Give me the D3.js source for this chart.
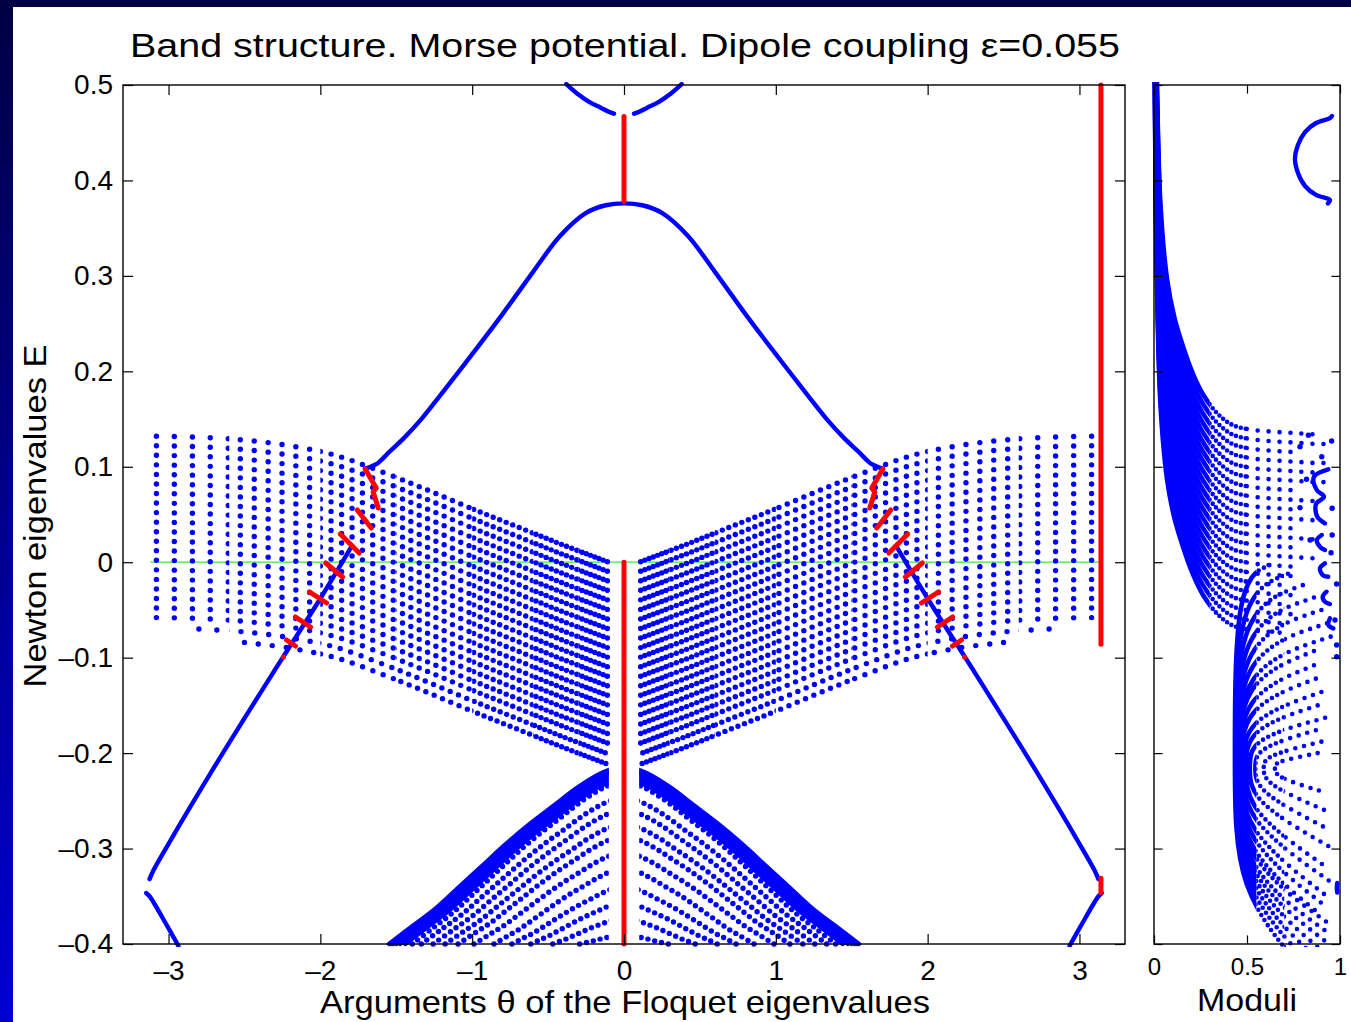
<!DOCTYPE html>
<html>
<head>
<meta charset="UTF-8">
<style>
  body { margin: 0; background: #fff; }
  svg { display: block; }
</style>
</head>
<body>
<svg id="chart"></svg>
<script src="https://d3js.org/d3.v7.min.js"></script>
<script>
const width = 1351, height = 1022;
const FONT = "'Liberation Sans', Arial, Helvetica, sans-serif";
const BLUE = "#0000ff", RED = "#ff0000", GREEN = "#33ee33";

// ---------- values ----------
const xTicks = [-3, -2, -1, 0, 1, 2, 3];
const yTicks = [-0.4, -0.3, -0.2, -0.1, 0, 0.1, 0.2, 0.3, 0.4, 0.5];
const modTicks = [0, 0.5, 1];

// upper band (left half, mirrored to the right)
const archX = [-1.705, -1.62, -1.55, -1.45, -1.335, -1.2, -1.0, -0.8, -0.6, -0.42, -0.25, -0.12, 0];
const archY = [0.098, 0.104, 0.115, 0.130, 0.150, 0.177, 0.218, 0.260, 0.304, 0.342, 0.366, 0.374, 0.376];
// band crossing the gap (right half, mirrored to the left)
const diagX = [1.80, 2.00, 2.32, 2.70, 3.00, 3.10, 3.125];
const diagY = [0.015, -0.038, -0.118, -0.215, -0.295, -0.323, -0.332];
// short branch at the bottom corners (left, mirrored)
const hookX = [-3.147, -3.125, -3.10, -3.02, -2.935];
const hookY = [-0.3466, -0.350, -0.356, -0.378, -0.402];
// branch touching the top edge (left, mirrored)
const vX = [-0.38, -0.30, -0.227, -0.15, -0.10, -0.066];
const vY = [0.501, 0.490, 0.482, 0.476, 0.472, 0.470];

// red vertical segments: x, top, bottom
const redVX = [0, 0, 3.1416, 3.1416];
const redVTop = [0.467, 0.0, 0.5, -0.331];
const redVBot = [0.378, -0.4, -0.086, -0.346];
// red zig-zag (right side, mirrored)
const redZig = [
  [[1.705, 0.0977], [1.632, 0.0778], [1.652, 0.0736], [1.619, 0.0568]],
  [[1.665, 0.0358], [1.757, 0.0547]],
  [[1.744, 0.0096], [1.869, 0.0295]],
  [[1.853, -0.0155], [1.965, -0.0008]],
  [[1.959, -0.0427], [2.071, -0.0312]],
  [[2.065, -0.0679], [2.164, -0.0574]],
  [[2.164, -0.0878], [2.223, -0.0815]],
  [[2.243, -0.0993], [2.243, -0.0993]]
];
const greenFrom = -3.12, greenTo = 3.13;

// middle band fan (left half, mirrored): common profile + offset of each row
const fanX = [-3.08, -2.8, -2.5, -2.2, -1.9, -1.6, -1.3, -1.0, -0.7, -0.4, -0.1];
const fanShape = [0, -0.001, -0.004, -0.010, -0.020, -0.037, -0.056, -0.076, -0.095, -0.114, -0.132];
const fanOffset = [0.132, 0.122, 0.112, 0.102, 0.092, 0.082, 0.072, 0.062, 0.052, 0.042, 0.032,
                   0.022, 0.012, 0.002, -0.008, -0.018, -0.028, -0.038, -0.048, -0.058, -0.069, -0.080];
const fanStartIdx = [0, 0, 0, 0, 0, 0, 0, 0, 0, 0, 0, 0, 0, 0, 0, 0, 0, 0, 0, 0, 1, 2];

// lower band arcs: where each meets E=-0.4, and its height near theta=0
const arcEnd = [-1.548, -1.535, -1.52, -1.50, -1.475, -1.44, -1.394, -1.335, -1.257, -1.178,
                -1.093, -0.988, -0.856, -0.738, -0.614, -0.469, -0.292];
const arcTop = [-0.212, -0.214, -0.216, -0.219, -0.222, -0.225, -0.228, -0.245, -0.258, -0.273,
                -0.286, -0.303, -0.320, -0.339, -0.356, -0.372, -0.390];
const arcU = [0, 0.1, 0.2, 0.3, 0.4, 0.5, 0.6, 0.7, 0.8, 0.9, 1];
const arcV = [0, 0.05, 0.13, 0.23, 0.33, 0.44, 0.56, 0.68, 0.80, 0.90, 1];

// moduli panel: upper family (profile + level)
const modTplX = [0.003, 0.008, 0.016, 0.035, 0.07, 0.11, 0.156, 0.21, 0.263, 0.34, 0.42, 0.52, 0.62, 0.70, 0.78, 0.86, 0.94];
const modTplDY = [0.62, 0.48, 0.366, 0.24, 0.163, 0.122, 0.092, 0.063, 0.042, 0.022, 0.010, 0.005, 0.003, 0.002, 0.001, 0, 0];
const modLevel = [0.134, 0.124, 0.114, 0.104, 0.094, 0.084, 0.074, 0.064, 0.054, 0.044, 0.034,
                  0.024, 0.014, 0.004, -0.006, -0.016, -0.026, -0.036, -0.046, -0.056, -0.066, -0.076];
const modEnd = [0.86, 0.94, 0.78, 0.94, 0.86, 0.94, 0.78, 0.86, 0.78, 0.86, 0.78,
                0.86, 0.78, 0.86, 0.78, 0.78, 0.70, 0.78, 0.70, 0.78, 0.70, 0.70];

// moduli panel: lower family, C-shaped arcs (control points, outermost first)
const cTopX = [0.62, 0.72, 0.80, 0.86, 0.90, 0.93, 0.95, 0.86, 0.86, 0.87, 0.90, 0.88, 0.92, 0.87, 0.90, 0.88];
const cTopY = [-0.003, -0.012, -0.024, -0.037, -0.050, -0.064, -0.078, -0.093, -0.108, -0.122,
               -0.136, -0.150, -0.163, -0.176, -0.188, -0.200];
const cShTopY = [-0.02, -0.035, -0.05, -0.065, -0.08, -0.095, -0.11, -0.125, -0.14, -0.152,
                 -0.165, -0.175, -0.185, -0.195, -0.203, -0.209];
const cLeftX = [0.435, 0.438, 0.441, 0.444, 0.447, 0.450, 0.454, 0.458, 0.463, 0.470,
                0.480, 0.495, 0.515, 0.545, 0.590, 0.650];
const cMidY = [-0.215, -0.215, -0.215, -0.215, -0.215, -0.215, -0.215, -0.215, -0.215, -0.215,
               -0.215, -0.215, -0.215, -0.215, -0.215, -0.215];
const cShBotY = [-0.345, -0.34, -0.335, -0.33, -0.325, -0.32, -0.31, -0.30, -0.29, -0.28,
                 -0.27, -0.26, -0.25, -0.24, -0.232, -0.225];
const cBotX = [0.82, 0.86, 0.90, 0.92, 0.94, 0.95, 0.95, 0.90, 0.92, 0.93, 0.95, 0.93, 0.96, 0.94, 0.92, 0.90];
const cBotY = [-0.43, -0.425, -0.42, -0.41, -0.40, -0.39, -0.38, -0.37, -0.36, -0.35,
               -0.335, -0.32, -0.30, -0.28, -0.26, -0.24];

// moduli panel: small pieces near |lambda| = 1
const semiX = [0.957, 0.946, 0.871, 0.812, 0.774, 0.758, 0.774, 0.812, 0.871, 0.946, 0.935];
const semiY = [0.4675, 0.4654, 0.4602, 0.4507, 0.4371, 0.4224, 0.4078, 0.3942, 0.3848, 0.3795, 0.376];
const squiggles = [
  [[0.937, 0.0973], [0.860, 0.0896], [0.875, 0.0757], [0.914, 0.0686], [0.871, 0.0610], [0.878, 0.0477], [0.919, 0.0408]],
  [[0.902, 0.0285], [0.875, 0.0233], [0.892, 0.0162], [0.919, 0.0128]],
  [[0.919, -0.0012], [0.892, -0.0064], [0.907, -0.0134], [0.937, -0.0152]],
  [[0.928, -0.0309], [0.907, -0.0361], [0.919, -0.0414], [0.946, -0.0438]],
  [[0.946, -0.0588], [0.937, -0.0658], [0.964, -0.0693]],
  [[0.985, -0.336], [0.983, -0.341], [0.985, -0.346]]
];
const modDotX = [0.955, 0.902, 0.830, 0.785, 0.820, 0.958, 0.785, 0.958, 0.839, 0.952, 0.982, 0.973, 0.982, 0.982];
const modDotY = [0.127, 0.1105, 0.133, 0.121, 0.0869, 0.0565, 0.0571, 0.0285, 0.0233, 0.010, -0.0228, -0.0606, -0.0868, -0.099];

// ---------- drawing ----------
const svg = d3.select("#chart").attr("width", width).attr("height", height);
const defs = svg.append("defs");

// slide frame
const edge = defs.append("linearGradient").attr("id", "edge")
  .attr("x1", 0).attr("x2", 0).attr("y1", 0).attr("y2", 1);
edge.append("stop").attr("offset", 0).attr("stop-color", "#000044");
edge.append("stop").attr("offset", 1).attr("stop-color", "#0000d4");
svg.append("rect").attr("width", width).attr("height", height).attr("fill", "#fff");
svg.append("rect").attr("width", width).attr("height", 7).attr("fill", "#000044");
svg.append("rect").attr("width", 13).attr("height", height).attr("fill", "url(#edge)");

const x = d3.scaleLinear().domain([-3.3, 3.3]).range([123, 1125]);
const y = d3.scaleLinear().domain([-0.4, 0.5]).range([944, 85]);
const xm = d3.scaleLinear().domain([0, 1]).range([1154, 1340]);

let clipCount = 0;
function clip(spans, sx, y0 = 82, y1 = 947) {
  const id = "c" + (clipCount++);
  const c = defs.append("clipPath").attr("id", id);
  spans.forEach(([a, b]) => {
    const p0 = Math.min(sx(a), sx(b)), p1 = Math.max(sx(a), sx(b));
    c.append("rect").attr("x", p0).attr("y", y0).attr("width", p1 - p0).attr("height", y1 - y0);
  });
  return "url(#" + id + ")";
}
const sym = (lo, hi) => [[-hi, -lo], [lo, hi]];

const smooth = d3.line().curve(d3.curveCatmullRom.alpha(0.5));
const basis = d3.line().curve(d3.curveBasis);
const toPx = (pts, sx) => pts.map(([a, b]) => [sx(a), y(b)]);
const mirror = pts => pts.map(([a, b]) => [-a, b]);
const zip = (xs, ys) => xs.map((v, i) => [v, ys[i]]);

function stroke(g, d, color, w, gap, clipUrl) {
  const p = g.append("path").attr("d", d).attr("fill", "none")
    .attr("stroke", color).attr("stroke-width", w)
    .attr("stroke-linecap", "round").attr("stroke-linejoin", "round");
  if (gap) p.attr("stroke-dasharray", "0 " + gap);
  if (clipUrl) p.attr("clip-path", clipUrl);
  return p;
}

// ----- main panel -----
const mainG = svg.append("g").attr("clip-path", clip([[-3.31, 3.31]], x));

mainG.append("line")
  .attr("x1", x(greenFrom)).attr("x2", x(greenTo))
  .attr("y1", y(0)).attr("y2", y(0))
  .attr("stroke", GREEN).attr("stroke-width", 1.3);

const blueG = mainG.append("g");

// dot spacing of the fan grows away from theta = 0
const fanZones = [
  { gap: 18, clip: clip(sym(2.6, 3.4), x) },
  { gap: 14, clip: clip(sym(2.0, 2.6), x) },
  { gap: 11, clip: clip(sym(1.5, 2.0), x) },
  { gap: 9, clip: clip(sym(1.0, 1.5), x) },
  { gap: 7, clip: clip(sym(0.6, 1.0), x) },
  { gap: 5.5, clip: clip(sym(0.3, 0.6), x) },
  { gap: 4.5, clip: clip(sym(0, 0.3), x) }
];
fanOffset.forEach((c, i) => {
  const pts = fanX.map((fx, j) => [fx, c + fanShape[j]]).slice(fanStartIdx[i]);
  [pts, mirror(pts)].forEach(p => {
    const d = smooth(toPx(p, x));
    fanZones.forEach(z => stroke(blueG, d, BLUE, 5.4, z.gap, z.clip));
  });
});

const arcClip = clip(sym(0.1, 3.4), x);
arcEnd.forEach((e, i) => {
  const top = arcTop[i];
  const pts = arcU.map((u, j) => [e * u, top + (-0.4 - top) * arcV[j]]).reverse();
  [pts, mirror(pts)].forEach(p => {
    stroke(blueG, smooth(toPx(p, x)), BLUE, i < 6 ? 4.4 : 5.4, i < 6 ? null : 7, arcClip);
  });
});

const arch = zip(archX, archY);
const archFull = arch.concat(mirror(arch).reverse().slice(1));
stroke(blueG, smooth(toPx(archFull, x)), BLUE, 4.4);

const diag = zip(diagX, diagY);
stroke(blueG, smooth(toPx(diag, x)), BLUE, 4.4);
stroke(blueG, smooth(toPx(mirror(diag), x)), BLUE, 4.4);

const hook = zip(hookX, hookY);
stroke(blueG, smooth(toPx(hook, x)), BLUE, 4.4);
stroke(blueG, smooth(toPx(mirror(hook), x)), BLUE, 4.4);

const vee = zip(vX, vY);
stroke(blueG, smooth(toPx(vee, x)), BLUE, 4.4);
stroke(blueG, smooth(toPx(mirror(vee), x)), BLUE, 4.4);

const redG = mainG.append("g");
redVX.forEach((rx, i) => {
  redG.append("line")
    .attr("x1", x(rx)).attr("x2", x(rx))
    .attr("y1", y(redVTop[i])).attr("y2", y(redVBot[i]))
    .attr("stroke", RED).attr("stroke-width", 5).attr("stroke-linecap", "round");
});
redZig.forEach(seg => {
  [seg, mirror(seg)].forEach(s => stroke(redG, d3.line()(toPx(s, x)), RED, 5));
});

// ----- moduli panel -----
const modG = svg.append("g").attr("clip-path", clip([[-0.01, 1.01]], xm));

const modZones = [
  { gap: null, clip: clip([[-0.05, 0.3]], xm) },
  { gap: 5, clip: clip([[0.3, 0.5]], xm) },
  { gap: 11, clip: clip([[0.5, 1.1]], xm) }
];
modLevel.forEach((L, i) => {
  const pts = modTplX.map((mx, j) => [mx, L + modTplDY[j]]).filter(p => p[0] <= modEnd[i] + 1e-9);
  const d = smooth(toPx(pts, xm));
  modZones.forEach(z => stroke(modG, d, BLUE, 4.6, z.gap, z.clip));
});

const cZones = [
  { gap: null, clip: clip([[-0.05, 0.55]], xm) },
  { gap: 6, clip: clip([[0.55, 0.7]], xm) },
  { gap: 9, clip: clip([[0.7, 1.1]], xm) }
];
cTopY.forEach((ty, i) => {
  const ctrl = [[cTopX[i], ty], [cLeftX[i], cShTopY[i]], [cLeftX[i], cMidY[i]],
                [cLeftX[i], cShBotY[i]], [cBotX[i], cBotY[i]]];
  const d = basis(toPx(ctrl, xm));
  cZones.forEach(z => stroke(modG, d, BLUE, 4.6, z.gap, z.clip));
});

stroke(modG, smooth(toPx(zip(semiX, semiY), xm)), BLUE, 4.4);
squiggles.forEach(s => stroke(modG, smooth(toPx(s, xm)), BLUE, 4.4));
modG.selectAll("circle.md").data(zip(modDotX, modDotY)).join("circle")
  .attr("class", "md")
  .attr("cx", d => xm(d[0])).attr("cy", d => y(d[1])).attr("r", 2.7).attr("fill", BLUE);

// ----- axes -----
const fmt = v => v === 0 ? "0" : (v < 0 ? "\u2013" : "") + String(Math.abs(v));
const noLab = () => "";

function styleAxis(g, size) {
  g.select(".domain").remove();
  g.selectAll("line").attr("stroke", "#000").attr("stroke-width", 1.2);
  g.attr("font-family", FONT).attr("font-size", size);
  g.selectAll("text").attr("fill", "#000");
}

const axes = svg.append("g");
axes.append("g").attr("transform", `translate(0,${y(-0.4)})`)
  .call(d3.axisBottom(x).tickValues(xTicks).tickSize(-10).tickPadding(16).tickFormat(fmt))
  .call(g => styleAxis(g, 28));
axes.append("g").attr("transform", `translate(0,${y(0.5)})`)
  .call(d3.axisTop(x).tickValues(xTicks).tickSize(-10).tickFormat(noLab))
  .call(g => styleAxis(g, 28));
axes.append("g").attr("transform", `translate(${x(-3.3)},0)`)
  .call(d3.axisLeft(y).tickValues(yTicks).tickSize(-10).tickPadding(10).tickFormat(fmt))
  .call(g => styleAxis(g, 28));
axes.append("g").attr("transform", `translate(${x(3.3)},0)`)
  .call(d3.axisRight(y).tickValues(yTicks).tickSize(-10).tickFormat(noLab))
  .call(g => styleAxis(g, 28));

axes.append("g").attr("transform", `translate(0,${y(-0.4)})`)
  .call(d3.axisBottom(xm).tickValues(modTicks).tickSize(-8.6).tickPadding(14).tickFormat(fmt))
  .call(g => styleAxis(g, 24));
axes.append("g").attr("transform", `translate(0,${y(0.5)})`)
  .call(d3.axisTop(xm).tickValues(modTicks).tickSize(-8.6).tickFormat(noLab))
  .call(g => styleAxis(g, 24));
axes.append("g").attr("transform", `translate(${xm(0)},0)`)
  .call(d3.axisLeft(y).tickValues(yTicks).tickSize(-8.6).tickFormat(noLab))
  .call(g => styleAxis(g, 24));
axes.append("g").attr("transform", `translate(${xm(1)},0)`)
  .call(d3.axisRight(y).tickValues(yTicks).tickSize(-8.6).tickFormat(noLab))
  .call(g => styleAxis(g, 24));

// boxes
axes.append("rect").attr("x", x(-3.3)).attr("y", y(0.5))
  .attr("width", x(3.3) - x(-3.3)).attr("height", y(-0.4) - y(0.5))
  .attr("fill", "none").attr("stroke", "#000").attr("stroke-width", 1.4);
axes.append("rect").attr("x", xm(0)).attr("y", y(0.5))
  .attr("width", xm(1) - xm(0)).attr("height", y(-0.4) - y(0.5))
  .attr("fill", "none").attr("stroke", "#000").attr("stroke-width", 1.4);

// ----- titles -----
const txt = (tx, ty, s, size, len) => svg.append("text")
  .attr("x", tx).attr("y", ty).attr("text-anchor", "middle")
  .attr("font-family", FONT).attr("font-size", size).attr("fill", "#000")
  .attr("textLength", len).attr("lengthAdjust", "spacingAndGlyphs").text(s);

txt(625, 57, "Band structure. Morse potential. Dipole coupling \u03b5=0.055", 33, 990);
txt(625, 1013, "Arguments \u03b8 of the Floquet eigenvalues", 32, 610);
txt(1247, 1011, "Moduli", 32, 100);
svg.append("text")
  .attr("transform", "translate(46,516) rotate(-90)")
  .attr("text-anchor", "middle").attr("font-family", FONT).attr("font-size", 32)
  .attr("textLength", 343).attr("lengthAdjust", "spacingAndGlyphs")
  .attr("fill", "#000").text("Newton eigenvalues E");
</script>
</body>
</html>
